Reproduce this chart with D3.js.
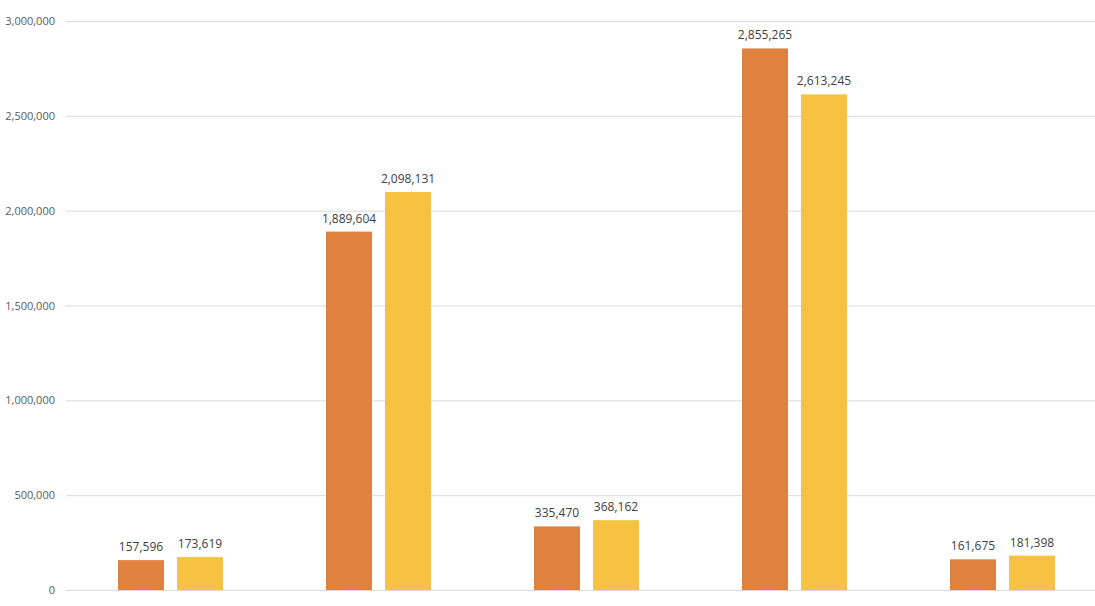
<!DOCTYPE html>
<html>
    <head>
        <script src="https://d3js.org/d3.v7.min.js"></script>
        <style>
            body { margin: 0; background: #fff; }
            svg { display: block; }
        </style>
    </head>
    <body>
        <svg width="1095" height="606"></svg>
        <script>
            // data (category names are cut off in the reference)
            const categories = ["A", "B", "C", "D", "E"];
            const seriesNames = ["Series 1", "Series 2"];
            const series1 = [157596, 1889604, 335470, 2855265, 161675];
            const series2 = [173619, 2098131, 368162, 2613245, 181398];
            const yTicks = [0, 500000, 1000000, 1500000, 2000000, 2500000, 3000000];
            const colors = ["#e0823f", "#f5c242"];

            let svg = d3.select("svg");

            let rows = categories.map((c, i) => ({cat: c, vals: [series1[i], series2[i]]}));

            // scales
            let x0 = d3.scaleBand()
                .domain(categories)
                .range([66.5, 1106.5])
                .paddingInner(0.495)
                .paddingOuter(0.2476);
            let x1 = d3.scaleBand()
                .domain(seriesNames)
                .range([0, x0.bandwidth()])
                .paddingInner(0.22);
            let yScale = d3.scaleLinear()
                .domain([0, 3000000])
                .range([590, 21]);

            // gridlines
            let grid = d3.axisLeft(yScale)
                .tickValues(yTicks)
                .tickSize(-(1106 - 66))
                .tickFormat('');
            svg.append('g')
                .attr('transform', 'translate(66,0)')
                .call(grid)
                .call(g => g.select('.domain').remove())
                .call(g => g.selectAll('line').attr('stroke', '#d9d9d9').attr('stroke-width', 1));

            // y labels
            let leftAxis = d3.axisLeft(yScale)
                .tickValues(yTicks)
                .tickSize(0)
                .tickPadding(0)
                .tickFormat(d3.format(','));
            svg.append('g')
                .attr('transform', 'translate(55,0)')
                .call(leftAxis)
                .call(g => g.select('.domain').remove())
                .call(g => g.selectAll('text')
                    .attr('fill', '#595959')
                    .style('font-family', '"Open Sans", Lato, sans-serif')
                    .style('font-size', '11px'));

            // bars
            let groups = svg.selectAll('g.grp').data(rows).join('g')
                .attr('class', 'grp')
                .attr('transform', d => `translate(${x0(d.cat)},0)`);

            groups.selectAll('rect')
                .data(d => d.vals.map((v, i) => ({name: seriesNames[i], v: v, i: i})))
                .join('rect')
                .attr('x', d => x1(d.name))
                .attr('y', d => yScale(d.v))
                .attr('width', x1.bandwidth())
                .attr('height', d => yScale(0) - yScale(d.v))
                .attr('fill', d => colors[d.i]);

            // value labels
            groups.selectAll('text')
                .data(d => d.vals.map((v, i) => ({name: seriesNames[i], v: v})))
                .join('text')
                .attr('x', d => x1(d.name) + x1.bandwidth() / 2)
                .attr('y', d => yScale(d.v) - 9)
                .attr('text-anchor', 'middle')
                .attr('fill', '#404040')
                .style('font-family', '"Open Sans", Lato, sans-serif')
                .style('font-size', '12px')
                .text(d => d3.format(',')(d.v));
        </script>
    </body>
</html>
